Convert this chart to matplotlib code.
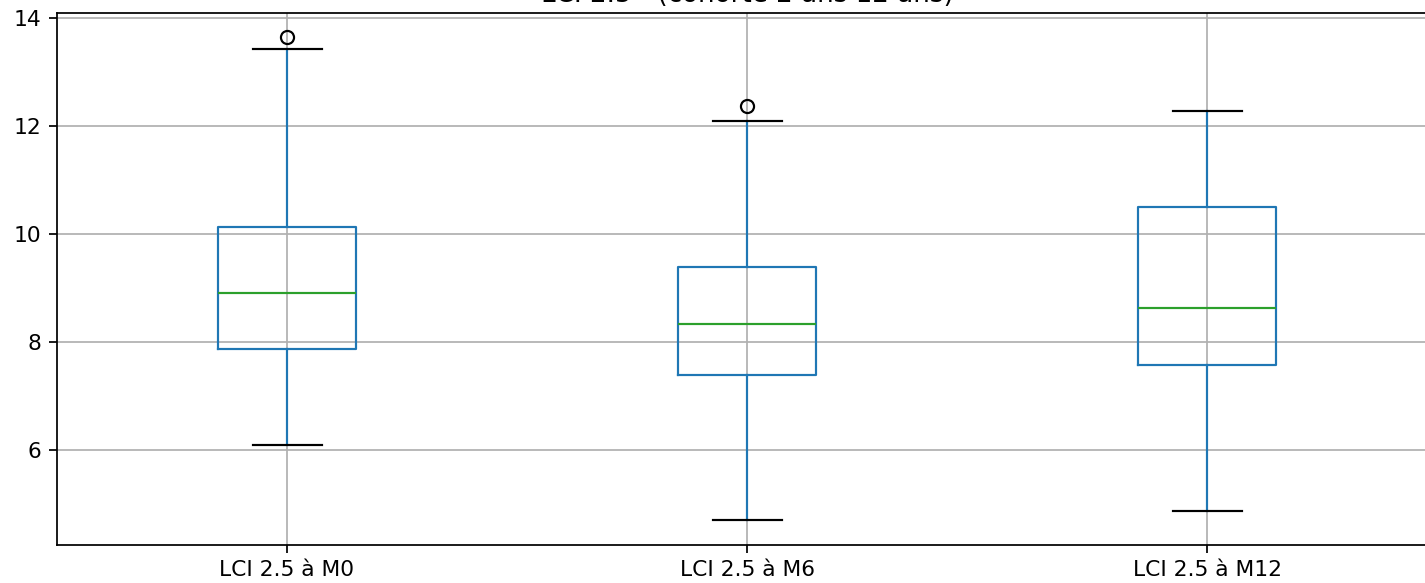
import matplotlib
matplotlib.use("Agg")
import matplotlib.pyplot as plt

labels = ["LCI 2.5 à M0", "LCI 2.5 à M6", "LCI 2.5 à M12"]
whislo = [6.09, 4.70, 4.87]
q1 = [7.87, 7.40, 7.57]
med = [8.92, 8.33, 8.63]
q3 = [10.13, 9.39, 10.51]
whishi = [13.44, 12.09, 12.29]
fliers = [[13.65], [12.38], []]
title = "LCI 2.5 - (cohorte 2 ans 12 ans)"

DPI = 157
fig = plt.figure(figsize=(1425 / DPI, 583 / DPI), dpi=DPI)
ax = fig.add_axes([57 / 1425, (583 - 544.6) / 583, 1380 / 1425, (544.6 - 13) / 583])

stats = []
for i in range(len(labels)):
    stats.append(dict(label=labels[i], whislo=whislo[i], q1=q1[i], med=med[i],
                      q3=q3[i], whishi=whishi[i], fliers=fliers[i]))

ax.bxp(stats, positions=[1, 2, 3], widths=0.3, showfliers=True,
       boxprops=dict(color="#1f77b4"),
       whiskerprops=dict(color="#1f77b4"),
       capprops=dict(color="black"),
       medianprops=dict(color="#2ca02c"),
       flierprops=dict(marker="o", markerfacecolor="none", markeredgecolor="black"))
ax.set_xlim(0.5, 3.5)
ax.set_yticks([6, 8, 10, 12, 14])
ax.grid(True)
ax.set_axisbelow(True)
ax.spines["right"].set_visible(False)
ax.set_title(title, pad=5.2)

fig.savefig("out.png", dpi=DPI)
